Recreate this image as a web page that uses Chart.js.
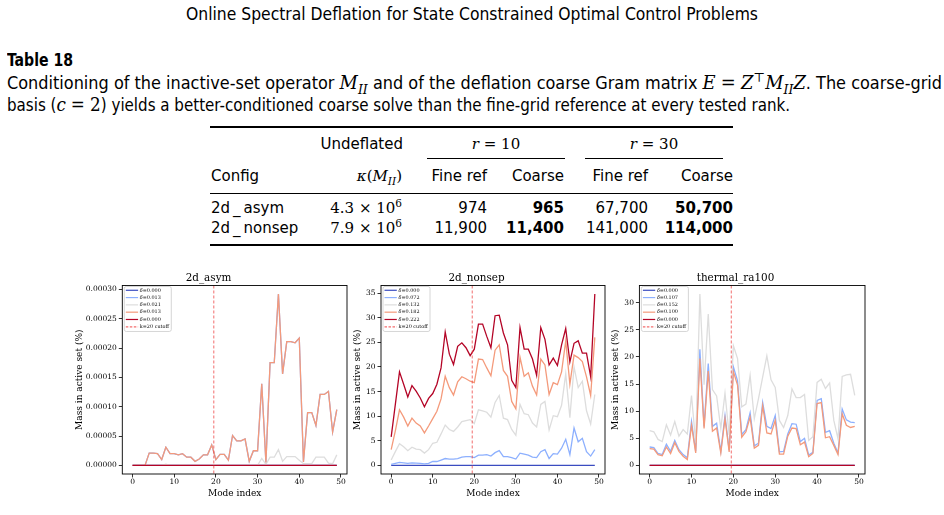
<!DOCTYPE html>
<html>
<head>
<meta charset="utf-8">
<script src="https://cdn.jsdelivr.net/npm/chart.js@4.4.1/dist/chart.umd.min.js"></script>
<style>
  body { margin: 0; width: 944px; height: 515px; background: #fff; position: relative; overflow: hidden; color: #000;
         font-family: "DejaVu Sans Condensed", "Liberation Sans Narrow", "DejaVu Sans", sans-serif; font-stretch: condensed; }
  .t { position: absolute; white-space: nowrap; line-height: 20px; transform-origin: 0 50%; font-size: 18px; }
  .m { font-family: "DejaVu Serif", "Liberation Serif", serif; font-style: italic; font-stretch: normal; }
  .s { font-family: "DejaVu Serif", "Liberation Serif", serif; font-stretch: normal; }
  sub, sup { font-size: 0.7em; line-height: 0; }
  .rule { position: absolute; background: #000; }
  .cell { position: absolute; white-space: nowrap; line-height: 18px; font-size: 15px;
          font-family: "DejaVu Sans", sans-serif; font-stretch: normal; }
  .cell.s { font-family: "DejaVu Serif", "Liberation Serif", serif; }
  .r { transform: translateX(-100%); }
  .c { transform: translateX(-50%); }
  .b { font-weight: bold; }
  canvas { position: absolute; }
</style>
</head>
<body>

<!-- page header and caption -->
<div class="t" style="left:186px; top:4px; font-size:17px;" data-w="572">Online Spectral Deflation for State Constrained Optimal Control Problems</div>
<div class="t b" style="left:7px; top:50px;" data-w="66">Table 18</div>
<div class="t" style="left:7px; top:73px;" data-w="935">Conditioning of the inactive-set operator <span class="m">M<sub>II</sub></span> and of the deflation coarse Gram matrix <span class="m">E</span> <span class="s">=</span> <span class="m">Z</span><sup class="s">⊤</sup><span class="m">M<sub>II</sub>Z</span>. The coarse-grid</div>
<div class="t" style="left:7px; top:95px;" data-w="783">basis (<span class="m">c</span> <span class="s">= 2</span>) yields a better-conditioned coarse solve than the fine-grid reference at every tested rank.</div>

<!-- table -->
<div class="rule" style="left:210px; top:126px; width:523px; height:1.5px;"></div>
<div class="cell r" style="left:403px; top:135px;">Undeflated</div>
<div class="cell c s" style="left:496px; top:135px;"><i>r</i> = 10</div>
<div class="cell c s" style="left:654px; top:135px;"><i>r</i> = 30</div>
<div class="rule" style="left:427px; top:158px; width:138px; height:1px;"></div>
<div class="rule" style="left:585px; top:158px; width:138px; height:1px;"></div>
<div class="cell" style="left:211px; top:167px;">Config</div>
<div class="cell r s" style="left:402px; top:167px;"><i>κ</i>(<i>M<sub>II</sub></i>)</div>
<div class="cell r" style="left:487px; top:167px;">Fine ref</div>
<div class="cell r" style="left:564px; top:167px;">Coarse</div>
<div class="cell r" style="left:648px; top:167px;">Fine ref</div>
<div class="cell r" style="left:733px; top:167px;">Coarse</div>
<div class="rule" style="left:210px; top:193px; width:523px; height:1px;"></div>
<div class="cell" style="left:211px; top:199px;">2d&thinsp;_&thinsp;asym</div>
<div class="cell r s" style="left:402px; top:199px;">4.3 × 10<sup>6</sup></div>
<div class="cell r" style="left:487px; top:199px;">974</div>
<div class="cell r b" style="left:564px; top:199px;">965</div>
<div class="cell r" style="left:648px; top:199px;">67,700</div>
<div class="cell r b" style="left:733px; top:199px;">50,700</div>
<div class="cell" style="left:211px; top:219px;">2d&thinsp;_&thinsp;nonsep</div>
<div class="cell r s" style="left:402px; top:219px;">7.9 × 10<sup>6</sup></div>
<div class="cell r" style="left:487px; top:219px;">11,900</div>
<div class="cell r b" style="left:564px; top:219px;">11,400</div>
<div class="cell r" style="left:648px; top:219px;">141,000</div>
<div class="cell r b" style="left:733px; top:219px;">114,000</div>
<div class="rule" style="left:210px; top:244px; width:523px; height:1.5px;"></div>

<!-- the three panels -->
<canvas id="asymChart" width="280" height="235" style="left:70px; top:265px;"></canvas>
<canvas id="nonsepChart" width="260" height="235" style="left:348px; top:265px;"></canvas>
<canvas id="thermalChart" width="262" height="235" style="left:606px; top:265px;"></canvas>

<script>
// --------------------
// Data
// --------------------
const modeIndex = [0,1,2,3,4,5,6,7,8,9,10,11,12,13,14,15,16,17,18,19,20,21,22,23,24,25,26,27,28,29,
  30,31,32,33,34,35,36,37,38,39,40,41,42,43,44,45,46,47,48,49];
const cutoffIndex = 19.5;

const flatZero = [0,0,0,0,0,0,0,0,0,0,0,0,0,0,0,0,0,0,0,0,0,0,0,0,0,
  0,0,0,0,0,0,0,0,0,0,0,0,0,0,0,0,0,0,0,0,0,0,0,0,0];

// 2d_asym
const asymLabels = ["0.000", "0.013", "0.021", "0.013", "0.000"];
const asymLight = [0,0,0,0,2.1e-5,2.1e-5,2.0e-5,1.0e-5,3.1e-5,2.0e-5,2.0e-5,1.8e-5,2.0e-5,1.4e-5,1.4e-5,0.7e-5,1.1e-5,1.8e-5,1.8e-5,3.5e-5,
  1.0e-5,1.9e-5,1.9e-5,0.9e-5,5.1e-5,4.2e-5,4.2e-5,4.5e-5,0.7e-5,2.5e-5,2.5e-5,13.9e-5,0.5e-5,17.5e-5,17.5e-5,29.2e-5,15.6e-5,21.1e-5,21.1e-5,20.9e-5,
  21.7e-5,0.6e-5,9.0e-5,9.0e-5,6.8e-5,12.1e-5,12.1e-5,12.6e-5,5.7e-5,9.5e-5];
const asymGray = [0,0,0,0,0,0,0,0,0.2e-5,0,0,0,0.1e-5,0,0,0,0,0,0,0,0.1e-5,0,0,0,0,0,0,0,0,0,
  0,1.2e-5,0.2e-5,1.4e-5,1.4e-5,2.7e-5,0.7e-5,1.5e-5,1.5e-5,1.5e-5,0.9e-5,0.3e-5,0.3e-5,0.3e-5,1.4e-5,1.4e-5,1.4e-5,0.4e-5,0.3e-5,1.8e-5];
const asymWarm = [0,0,0,0,2.1e-5,2.1e-5,2.0e-5,1.0e-5,3.1e-5,2.0e-5,2.0e-5,1.8e-5,2.0e-5,1.4e-5,1.4e-5,0.7e-5,1.1e-5,1.8e-5,1.8e-5,3.5e-5,
  1.0e-5,1.9e-5,1.9e-5,0.9e-5,5.1e-5,4.2e-5,4.2e-5,4.5e-5,0.7e-5,2.5e-5,2.5e-5,13.9e-5,0.5e-5,17.5e-5,17.5e-5,29.2e-5,15.6e-5,21.1e-5,21.1e-5,20.9e-5,
  21.7e-5,0.6e-5,9.0e-5,9.0e-5,6.8e-5,12.1e-5,12.1e-5,12.6e-5,5.7e-5,9.5e-5];
const asymTicks = [0, 0.00005, 0.0001, 0.00015, 0.0002, 0.00025, 0.0003];

// 2d_nonsep
const nonsepLabels = ["0.000", "0.072", "0.132", "0.182", "0.222"];
const nonsepLight = [0.2,0.4,0.6,0.5,0.4,0.5,0.45,0.4,0.3,0.4,0.8,0.8,1.1,1.4,1.3,1.3,1.4,1.7,1.8,1.8,
  1.6,2.1,2.1,2.2,1.9,2.6,3.0,1.8,1.8,1.6,1.3,2.5,2.3,2.1,1.7,1.6,2.8,3.2,1.4,2.4,
  2.3,3.5,5.3,2.2,7.6,4.8,5.5,2.8,1.9,3.2];
const nonsepGray = [1.1,2.8,4.4,3.8,3.0,3.7,3.3,3.2,2.5,3.2,4.5,4.7,6.4,8.2,7.3,6.9,7.8,8.9,9.1,9.3,
  8.5,11.3,11.1,10.8,9.8,12.8,14.2,9.6,9.3,7.3,6.1,12.4,10.5,10.3,8.6,7.8,12.4,13.0,7.2,10.1,
  9.9,12.2,18.6,9.7,20.0,15.8,17.1,11.1,8.4,14.4];
const nonsepWarm = [3.2,7.0,11.3,9.8,8.0,9.6,8.6,8.0,6.6,8.0,9.5,11.0,13.5,18.1,15.8,14.3,17.0,18.0,17.6,17.1,
  16.8,21.6,21.5,19.8,18.2,23.4,24.5,19.3,18.1,13.0,11.5,22.0,18.1,18.8,16.1,14.3,21.6,20.4,14.4,16.8,
  16.4,19.0,25.3,16.5,22.4,21.9,21.1,18.0,14.2,26.0];
const nonsepHot = [5.8,12.4,19.0,16.5,13.9,16.2,15.1,13.7,11.9,13.6,14.6,16.5,19.8,27.1,22.6,20.5,24.2,24.9,23.9,22.3,
  23.6,28.7,28.7,26.2,23.9,30.4,30.5,26.9,24.5,17.3,15.8,28.0,23.6,23.6,21.6,18.3,28.0,25.6,20.4,21.8,
  20.3,24.5,27.8,21.0,24.8,25.3,22.8,22.8,18.0,34.8];
const nonsepTicks = [0, 5, 10, 15, 20, 25, 30, 35];

// thermal_ra100
const thermalLabels = ["0.000", "0.107", "0.152", "0.100", "0.000"];
const thermalLight = [3.4,3.3,2.2,2.0,3.9,2.6,4.6,2.9,2.0,1.4,8.1,2.6,21.4,7.2,18.8,7.2,7.8,2.6,9.2,2.8,
  18.2,15.6,5.7,6.6,9.7,3.6,4.1,11.6,7.2,6.8,9.2,2.5,2.6,5.8,7.7,7.6,4.4,5.0,1.9,2.4,
  12.0,12.3,6.1,6.4,4.1,2.3,10.4,8.4,8.0,7.9];
const thermalGray = [6.4,6.2,4.8,4.4,7.5,5.6,8.1,5.4,6.6,5.8,12.9,4.2,31.6,14.9,27.9,14.0,12.8,6.8,13.3,5.6,
  22.1,19.7,10.8,11.3,16.6,8.6,12.3,16.3,20.2,15.8,14.4,8.3,7.0,9.2,14.1,12.5,12.5,13.1,4.6,5.3,
  15.3,15.9,14.2,15.2,8.3,4.9,16.4,16.7,16.8,12.9];
const thermalWarm = [3.1,3.0,2.0,1.8,3.4,2.2,4.2,2.6,1.7,1.1,7.4,2.3,19.7,6.8,17.4,6.3,6.9,2.3,8.6,2.5,
  17.3,14.8,5.2,6.2,8.9,3.2,3.7,11.0,6.0,5.8,8.3,2.1,2.1,5.4,6.9,6.8,3.8,4.3,1.6,2.2,
  11.4,11.6,5.1,5.3,3.7,2.0,9.5,7.4,7.0,7.2];
const thermalTicks = [0, 5, 10, 15, 20, 25, 30];

const xTicks = [0, 10, 20, 30, 40, 50];

// --------------------
// Styles
// --------------------
const lineColors = ["#3b4cc0", "#8db0fe", "#dddddd", "#f49a7b", "#b40426"];
const cutoffColor = "rgba(238, 60, 60, 0.75)";
const serif = "'DejaVu Serif', 'Liberation Serif', serif";

// fit header text to the widths seen in the reference
document.querySelectorAll("[data-w]").forEach(el => {
  const w = el.getBoundingClientRect().width;
  el.style.transform = "scaleX(" + (parseFloat(el.dataset.w) / w) + ")";
});

// --------------------
// Plugins: cutoff line, box frame, inside legend
// --------------------
const panelDecor = {
  id: "panelDecor",
  afterDatasetsDraw(chart) {
    const ctx = chart.ctx;
    const a = chart.chartArea;
    const xs = chart.scales.x;
    ctx.save();
    // k=20 cutoff
    const cx = xs.getPixelForValue(cutoffIndex);
    ctx.strokeStyle = cutoffColor;
    ctx.lineWidth = 1;
    ctx.setLineDash([3, 2]);
    ctx.beginPath();
    ctx.moveTo(cx, a.top);
    ctx.lineTo(cx, a.bottom);
    ctx.stroke();
    ctx.setLineDash([]);
    // frame
    ctx.strokeStyle = "#000";
    ctx.lineWidth = 0.9;
    ctx.strokeRect(a.left, a.top, a.right - a.left, a.bottom - a.top);
    ctx.restore();
  },
  afterDraw(chart) {
    const ctx = chart.ctx;
    const a = chart.chartArea;
    const x0 = a.left + 2, y0 = a.top + 1, w = 47, h = 45;
    ctx.save();
    ctx.fillStyle = "rgba(255,255,255,0.85)";
    ctx.strokeStyle = "#cccccc";
    ctx.lineWidth = 0.8;
    ctx.beginPath();
    ctx.roundRect(x0, y0, w, h, 2);
    ctx.fill();
    ctx.stroke();
    ctx.textBaseline = "middle";
    const items = chart.data.datasets.map(d => ({ label: d.label, color: d.borderColor, dash: [] }));
    items.push({ label: null, color: cutoffColor, dash: [2.5, 1.5] });
    items.forEach((it, i) => {
      const y = y0 + 3.8 + 7.3 * i;
      ctx.strokeStyle = it.color;
      ctx.lineWidth = 1.2;
      ctx.setLineDash(it.dash);
      ctx.beginPath();
      ctx.moveTo(x0 + 1.5, y);
      ctx.lineTo(x0 + 13.8, y);
      ctx.stroke();
      ctx.setLineDash([]);
      ctx.fillStyle = "#000";
      let tx = x0 + 15.5;
      if (it.label === null) {
        ctx.font = "4.9px " + serif;
        ctx.fillText("k=20 cutoff", tx, y);
      } else {
        ctx.font = "italic 4.9px " + serif;
        ctx.fillText("δ", tx, y);
        tx += ctx.measureText("δ").width;
        ctx.font = "4.9px " + serif;
        ctx.fillText("=" + it.label, tx, y);
      }
    });
    ctx.restore();
  }
};

// --------------------
// Build a panel
// --------------------
function buildPanel(canvasId, title, series, labels, yTicks, yPad, yAxisWidth, yFormat) {
  const datasets = series.map((vals, k) => ({
    label: labels[k],
    data: modeIndex.map((m, i) => ({ x: m, y: vals[i] })),
    borderColor: lineColors[k],
    borderWidth: 1.3,
    pointRadius: 0,
    tension: 0,
    fill: false,
    order: series.length - k
  }));
  const yDataMax = Math.max(...series.flat());
  return new Chart(document.getElementById(canvasId), {
    type: "line",
    data: { datasets },
    plugins: [panelDecor],
    options: {
      responsive: false,
      animation: false,
      devicePixelRatio: 1,
      layout: { padding: { right: 3 } },
      plugins: {
        legend: { display: false },
        tooltip: { enabled: false },
        title: {
          display: true, text: title, color: "#000",
          font: { family: serif, size: 10.4, weight: "normal", lineHeight: 1.2 },
          padding: { top: 7, bottom: 1 }
        }
      },
      scales: {
        x: {
          type: "linear", min: -2.45, max: 51.45,
          afterFit(axis) { axis.height = 26; },
          afterBuildTicks(axis) { axis.ticks = xTicks.map(v => ({ value: v })); },
          ticks: { color: "#000", padding: 1, maxRotation: 0, font: { family: serif, size: 7.5, lineHeight: 1 } },
          grid: { display: true, drawOnChartArea: false, tickLength: 3.5, color: "#000", lineWidth: 0.8 },
          border: { display: false },
          title: { display: true, text: "Mode index", color: "#000", padding: { top: 0, bottom: 0.7 },
                   font: { family: serif, size: 9, lineHeight: 1.2 } }
        },
        y: {
          type: "linear", min: -yPad, max: yDataMax + yPad,
          afterFit(axis) { axis.width = yAxisWidth; },
          afterBuildTicks(axis) { axis.ticks = yTicks.map(v => ({ value: v })); },
          ticks: { color: "#000", padding: 2, font: { family: serif, size: 7.5, lineHeight: 1 }, callback: yFormat },
          grid: { display: true, drawOnChartArea: false, tickLength: 3.5, color: "#000", lineWidth: 0.8 },
          border: { display: false },
          title: { display: true, text: "Mass in active set (%)", color: "#000", padding: { top: 4, bottom: 0 },
                   font: { family: serif, size: 9, lineHeight: 1.2 } }
        }
      }
    }
  });
}

buildPanel("asymChart", "2d_asym",
  [flatZero, asymLight, asymGray, asymWarm, flatZero], asymLabels,
  asymTicks, 0.0000146, 52.3, v => v.toFixed(5));
buildPanel("nonsepChart", "2d_nonsep",
  [flatZero, nonsepLight, nonsepGray, nonsepWarm, nonsepHot], nonsepLabels,
  nonsepTicks, 1.74, 33, v => String(v));
buildPanel("thermalChart", "thermal_ra100",
  [flatZero, thermalLight, thermalGray, thermalWarm, flatZero], thermalLabels,
  thermalTicks, 1.58, 33.4, v => String(v));
</script>
</body>
</html>
